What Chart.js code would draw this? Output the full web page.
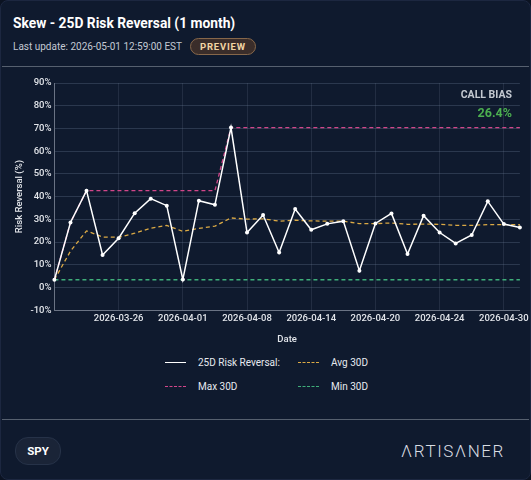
<!DOCTYPE html>
<html>
<head>
<meta charset="utf-8">
<script src="https://cdn.jsdelivr.net/npm/chart.js"></script>
<style>
  html, body { margin: 0; padding: 0; background: #0b1322; }
  body { width: 531px; height: 480px; overflow: hidden; font-family: Roboto, sans-serif; }
  .card {
    position: absolute; left: 0; top: 0; width: 529px; height: 478px;
    background: #0f1a2e; border: 1px solid #1c2740; border-radius: 8px;
  }
  .title {
    position: absolute; left: 12px; top: 13px; color: #fff; font-weight: 700; font-size: 15.5px;
    transform: scaleX(0.89); transform-origin: left center; white-space: nowrap;
  }
  .sub { position: absolute; left: 12px; top: 40px; color: #c3c9d3; font-size: 10px; }
  .badge {
    position: absolute; left: 189px; top: 37px; height: 15px; padding: 0 9px;
    border: 1.5px solid #86674a; background: #3a2d2a; border-radius: 10px;
    color: #f2d5a4; font-weight: 700; font-size: 9.5px; letter-spacing: 0.8px; line-height: 15px;
  }
  .sep { position: absolute; left: 1px; right: 1px; height: 1px; background: #56606f; }
  .chartbox { position: absolute; left: 0; top: 70px; width: 531px; height: 276px; }
  .bias { position: absolute; right: 18px; text-align: right; font-weight: 700; }
  .legend { position: absolute; left: 164px; top: 353px; display: grid; grid-template-columns: 133px 120px; row-gap: 8px; }
  .legend div { display: flex; align-items: center; font-size: 10px; color: #e6e9ee; height: 16px; }
  .legend i { display: inline-block; width: 21px; height: 0; margin-right: 12px; }
  .pill {
    position: absolute; left: 14px; top: 436px; width: 44px; height: 26px; border-radius: 13px;
    background: #1a2437; border: 1px solid #263248; color: #fff; font-weight: 700; font-size: 11.5px;
    text-align: center; line-height: 26px;
  }
  .logo { position: absolute; right: 25px; top: 440px; color: #d9dde3; font-size: 17px; font-weight: 300; letter-spacing: 1.6px; }
</style>
</head>
<body>
<div class="card">
  <div class="title">Skew - 25D Risk Reversal (1 month)</div>
  <div class="sub">Last update: 2026-05-01 12:59:00 EST</div>
  <div class="badge">PREVIEW</div>
  <div class="sep" style="top:65px"></div>
  <div class="chartbox"><canvas id="chart" width="531" height="276"></canvas></div>
  <div class="bias" style="top:87px;color:#c4c9d1;font-size:10.5px;">CALL BIAS</div>
  <div class="bias" style="top:104px;color:#4caf50;font-size:12.5px;">26.4%</div>
  <div class="legend" id="legend"></div>
  <div class="sep" style="top:418px"></div>
  <div class="pill">SPY</div>
  <div class="logo">ΛRTISΛNER</div>
</div>
<script>
const dates = [
  '2026-03-20', '2026-03-23', '2026-03-24', '2026-03-25', '2026-03-26', '2026-03-27',
  '2026-03-30', '2026-03-31', '2026-04-01', '2026-04-02', '2026-04-06', '2026-04-07',
  '2026-04-08', '2026-04-09', '2026-04-10', '2026-04-13', '2026-04-14', '2026-04-15',
  '2026-04-16', '2026-04-17', '2026-04-20', '2026-04-21', '2026-04-22', '2026-04-23',
  '2026-04-24', '2026-04-27', '2026-04-28', '2026-04-29', '2026-04-30', '2026-05-01'
];
const riskReversal = [
  3.4, 28.6, 42.6, 14.3, 21.7, 32.7, 39.1, 36.0, 3.5, 38.2, 36.4, 70.4, 24.2, 31.9, 15.4,
  34.5, 25.4, 28.0, 29.2, 7.4, 28.2, 32.6, 14.7, 31.6, 24.2, 19.4, 23.1, 37.9, 27.9, 26.4
];
const avg30 = [
  3.4, 16.0, 24.9, 22.2, 22.1, 23.9, 26.1, 27.3, 24.7, 26.0, 27.0, 30.6, 30.1, 30.2, 29.2,
  29.6, 29.3, 29.2, 29.2, 28.1, 28.1, 28.4, 27.8, 27.9, 27.8, 27.4, 27.3, 27.7, 27.7, 27.6
];
const max30 = [
  3.4, 28.6, 42.6, 42.6, 42.6, 42.6, 42.6, 42.6, 42.6, 42.6, 42.6, 70.4, 70.4, 70.4, 70.4,
  70.4, 70.4, 70.4, 70.4, 70.4, 70.4, 70.4, 70.4, 70.4, 70.4, 70.4, 70.4, 70.4, 70.4, 70.4
];
const min30 = [
  3.4, 3.4, 3.4, 3.4, 3.4, 3.4, 3.4, 3.4, 3.4, 3.4, 3.4, 3.4, 3.4, 3.4, 3.4,
  3.4, 3.4, 3.4, 3.4, 3.4, 3.4, 3.4, 3.4, 3.4, 3.4, 3.4, 3.4, 3.4, 3.4, 3.4
];

const series = [
  { label: '25D Risk Reversal:', data: riskReversal, color: '#ffffff', dash: [] },
  { label: 'Avg 30D', data: avg30, color: '#dcaa45', dash: [4, 3] },
  { label: 'Max 30D', data: max30, color: '#d2468a', dash: [4, 3] },
  { label: 'Min 30D', data: min30, color: '#3fae7a', dash: [4, 3] }
];

// legend in two columns, like the original
const legendEl = document.getElementById('legend');
series.forEach(s => {
  const d = document.createElement('div');
  const line = s.dash.length ? `1.2px dashed ${s.color}` : `1.5px solid ${s.color}`;
  d.innerHTML = `<i style="border-top:${line}"></i>${s.label}`;
  legendEl.appendChild(d);
});

Chart.defaults.font.family = 'Roboto, sans-serif';
Chart.defaults.color = '#d5d9e0';

new Chart(document.getElementById('chart'), {
  type: 'line',
  data: {
    labels: dates,
    datasets: series.map((s, i) => ({
      label: s.label,
      data: s.data,
      borderColor: s.color,
      backgroundColor: s.color,
      borderWidth: i === 0 ? 1.5 : 1.3,
      borderDash: s.dash,
      pointRadius: i === 0 ? 2 : 0,
      pointBorderWidth: 0,
      tension: 0,
      order: i === 0 ? 0 : 1
    }))
  },
  options: {
    responsive: false,
    animation: false,
    layout: { padding: { left: 11, right: 10, top: 12, bottom: 2 } },
    plugins: { legend: { display: false }, tooltip: { enabled: false } },
    scales: {
      x: {
        grid: { color: 'rgba(120,135,160,0.18)', lineWidth: 1, drawTicks: false },
        border: { color: '#6a7384' },
        ticks: {
          autoSkip: false, maxRotation: 0, font: { size: 9.5, weight: 500 }, color: '#e2e5ea', padding: 3,
          callback: (v, i) => (i > 0 && i % 4 === 0) ? dates[i] : null
        },
        title: { display: true, text: 'Date', font: { size: 9.5, weight: 500 }, color: '#e2e5ea', padding: { top: 6, bottom: 0 } }
      },
      y: {
        min: -10, max: 90,
        grid: { color: 'rgba(120,135,160,0.28)', lineWidth: 1, drawTicks: false },
        border: { color: '#6a7384' },
        ticks: { stepSize: 10, font: { size: 9.5, weight: 500 }, color: '#e2e5ea', callback: v => v + '%', padding: 3 },
        title: { display: true, text: 'Risk Reversal (%)', font: { size: 9.5, weight: 500 }, color: '#e2e5ea', padding: 2 }
      }
    }
  }
});
</script>
</body>
</html>
